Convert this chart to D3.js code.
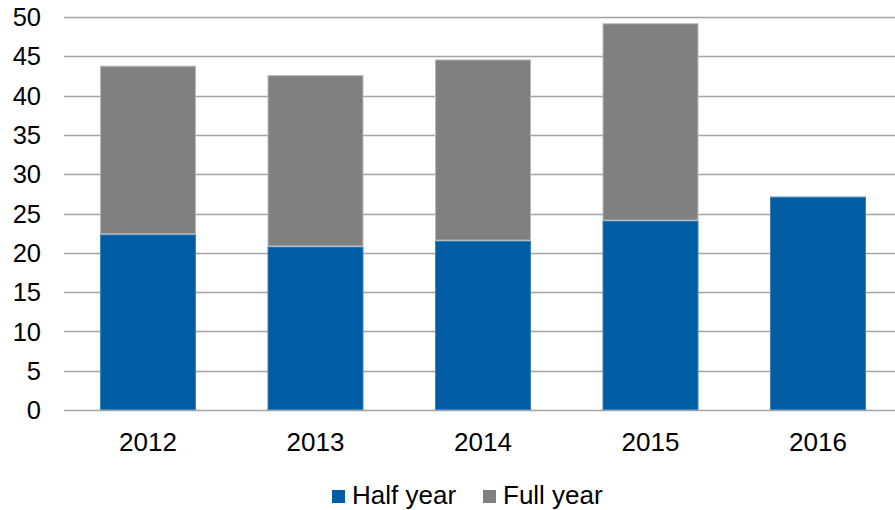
<!DOCTYPE html>
<html>
<head>
<meta charset="utf-8">
<script src="https://cdn.jsdelivr.net/npm/d3@7"></script>
<style>
  html, body { margin: 0; padding: 0; background: #ffffff; }
  svg { display: block; font-family: "Liberation Sans", Arial, sans-serif; }
</style>
</head>
<body>
<svg id="chart" width="895" height="510"></svg>
<script>
// Years on the category axis
const years = ["2012", "2013", "2014", "2015", "2016"];
// First-half result for each year
const halfYear = [22.35, 20.8, 21.55, 24.1, 27.15];
// Remaining part that completes the full-year result (stacked on top)
const fullYear = [21.45, 21.8, 23.05, 25.1, 0];
// Value-axis ticks
const yTicks = [0, 5, 10, 15, 20, 25, 30, 35, 40, 45, 50];
const seriesNames = ["Half year", "Full year"];
const seriesColors = ["#005ca3", "#808080"];

const svg = d3.select("#chart");
const W = 895;

const x = d3.scaleBand()
  .domain(years)
  .range([64.25, 901.75])
  .paddingInner(0.427)
  .paddingOuter(0.2135);

const y = d3.scaleLinear().domain([0, 50]).range([410, 17]);

// Horizontal gridlines
svg.append("g")
  .selectAll("line")
  .data(yTicks)
  .join("line")
  .attr("x1", 64)
  .attr("x2", W)
  .attr("y1", d => Math.round(y(d)) + 0.5)
  .attr("y2", d => Math.round(y(d)) + 0.5)
  .attr("stroke", "#a3a3a3")
  .attr("stroke-width", 1.4);

// Y-axis labels
svg.append("g")
  .selectAll("text")
  .data(yTicks)
  .join("text")
  .attr("x", 41)
  .attr("y", d => y(d))
  .attr("dy", "0.36em")
  .attr("text-anchor", "end")
  .attr("font-size", 25.5)
  .attr("fill", "#000")
  .text(d => d);

// Stacked bars
const rows = years.map((yr, i) => ({ year: yr, half: halfYear[i], full: fullYear[i] }));
const stacked = d3.stack().keys(["half", "full"])(rows);

svg.append("g")
  .selectAll("g")
  .data(stacked)
  .join("g")
  .attr("fill", (d, i) => seriesColors[i])
  .attr("stroke", (d, i) => i === 0 ? "#3f83bd" : "#b8b8b8")
  .attr("stroke-width", 1)
  .selectAll("rect")
  .data(d => d.filter(p => p[1] - p[0] > 0))
  .join("rect")
  .attr("x", d => x(d.data.year) + 0.5)
  .attr("width", x.bandwidth() - 1)
  .attr("y", d => y(d[1]) + 0.5)
  .attr("height", d => y(d[0]) - y(d[1]) - 1);

// X-axis labels
svg.append("g")
  .selectAll("text")
  .data(years)
  .join("text")
  .attr("x", d => x(d) + x.bandwidth() / 2)
  .attr("y", 451)
  .attr("text-anchor", "middle")
  .attr("font-size", 26)
  .attr("fill", "#000")
  .text(d => d);

// Legend
const legendX = [332, 483];
const legend = svg.append("g")
  .selectAll("g")
  .data(seriesNames)
  .join("g")
  .attr("transform", (d, i) => `translate(${legendX[i]},490)`);
legend.append("rect")
  .attr("width", 13)
  .attr("height", 13)
  .attr("fill", (d, i) => seriesColors[i]);
legend.append("text")
  .attr("x", 20)
  .attr("y", 13.5)
  .attr("font-size", 26)
  .attr("fill", "#000")
  .text(d => d);
</script>
</body>
</html>
